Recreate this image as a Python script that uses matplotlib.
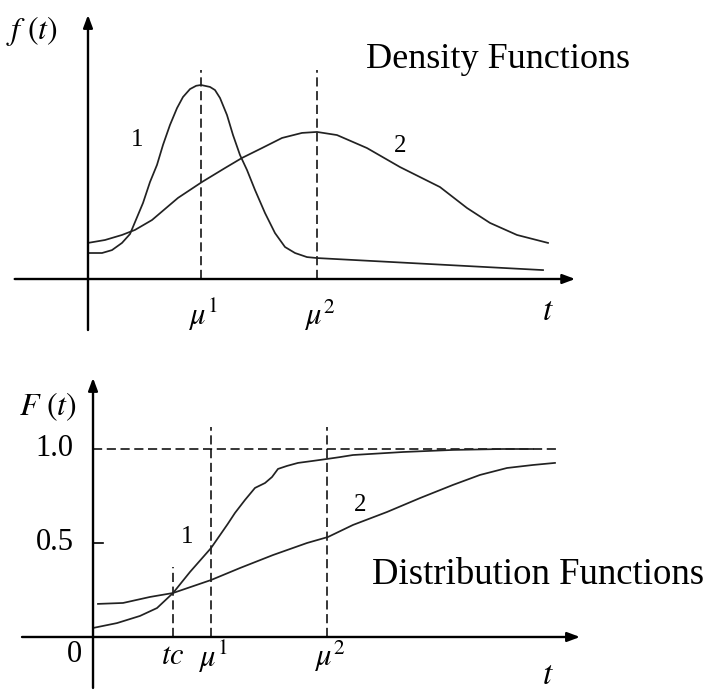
import numpy as np
import matplotlib
matplotlib.use('Agg')
import matplotlib.pyplot as plt

plt.rcParams['mathtext.fontset'] = 'stix'
plt.rcParams['font.family'] = 'Liberation Serif'

# density curves f(t)
t_dens1 = [0.0, 0.245, 0.419, 0.594, 0.734, 0.961, 1.083, 1.205, 1.310, 1.432, 1.555,
           1.659, 1.782, 1.890, 1.974, 2.131, 2.218, 2.306, 2.428, 2.533, 2.655, 2.777,
           2.917, 3.092, 3.266, 3.441, 3.616, 3.825, 4.0, 5.974, 7.948]
f_dens1 = [0.134, 0.134, 0.149, 0.186, 0.232, 0.392, 0.500, 0.588, 0.691, 0.794, 0.881,
           0.938, 0.979, 0.996, 1.0, 0.990, 0.974, 0.933, 0.845, 0.742, 0.639, 0.562,
           0.459, 0.340, 0.237, 0.165, 0.134, 0.113, 0.108, 0.077, 0.046]
t_dens2 = [0.0, 0.297, 0.594, 0.821, 1.118, 1.572, 1.991, 2.393, 2.690, 3.039, 3.389,
           3.738, 4.0, 4.349, 4.873, 5.450, 6.148, 6.620, 7.022, 7.493, 8.035]
f_dens2 = [0.186, 0.201, 0.227, 0.253, 0.304, 0.418, 0.500, 0.572, 0.624, 0.675, 0.727,
           0.753, 0.758, 0.742, 0.675, 0.577, 0.474, 0.366, 0.289, 0.227, 0.186]
mu_dens = [1.974, 4.0]

# distribution curves F(t)
t_dist1 = [0.0, 0.410, 0.803, 1.094, 1.368, 1.658, 2.017, 2.300, 2.427, 2.598, 2.769,
           2.940, 3.060, 3.162, 3.316, 3.504, 3.744, 4.0, 4.222, 4.444, 5.299, 6.154,
           7.009, 7.521]
F_dist1 = [0.048, 0.074, 0.112, 0.154, 0.234, 0.346, 0.473, 0.600, 0.660, 0.729, 0.793,
           0.819, 0.851, 0.894, 0.910, 0.926, 0.936, 0.947, 0.957, 0.968, 0.984, 0.995,
           1.0, 1.0]
t_dist2 = [0.085, 0.513, 0.974, 1.368, 2.017, 2.513, 3.077, 3.658, 4.017, 4.444, 5.026,
           5.590, 6.154, 6.615, 7.077, 7.521, 7.897]
F_dist2 = [0.176, 0.181, 0.213, 0.234, 0.303, 0.367, 0.436, 0.500, 0.532, 0.596, 0.665,
           0.739, 0.809, 0.862, 0.899, 0.915, 0.926]
tc = 1.368
mu_dist = [2.017, 4.0]
F_ticks = [0.5, 1.0]
F_ticklabels = ['0.5', '1.0']

curve_kw = dict(color='#222222', lw=1.25, solid_joinstyle='round')
dash_kw = dict(color='k', lw=1.1, linestyle=(0, (6, 3)))


def axis_arrow(ax, x0, y0, x1, y1):
    ax.annotate('', xy=(x1, y1), xytext=(x0, y0),
                arrowprops=dict(arrowstyle='-|>,head_length=0.75,head_width=0.28',
                                lw=1.7, color='k', shrinkA=0, shrinkB=0))


fig = plt.figure(figsize=(7.11, 6.92), dpi=100)

# ---- top: density functions
ax1 = fig.add_axes([0, 352 / 692, 1, 340 / 692])
ax1.set_xlim(-1.537, 10.882)
ax1.set_ylim(-0.3144, 1.4381)
ax1.axis('off')

axis_arrow(ax1, -1.28, 0, 8.51, 0)
axis_arrow(ax1, 0, -0.263, 0, 1.361)
for m in mu_dens:
    ax1.plot([m, m], [0, 1.077], **dash_kw)
ax1.plot(t_dens1, f_dens1, **curve_kw)
ax1.plot(t_dens2, f_dens2, **curve_kw)

ax1.text(-0.98, 1.28, r'$f\ (t)$', fontsize=23, ha='center', va='center')
ax1.text(4.86, 1.13, 'Density Functions', fontsize=26, ha='left', va='center')
ax1.text(0.856, 0.716, '1', fontsize=18, ha='center', va='center')
ax1.text(5.45, 0.686, '2', fontsize=18, ha='center', va='center')
for i, m in enumerate(mu_dens):
    ax1.text(m - 0.22, -0.186, r'$\mu^{%d}$' % (i + 1), fontsize=22, ha='left', va='center')
ax1.text(8.035, -0.17, r'$t$', fontsize=24, ha='center', va='center')

# ---- bottom: distribution functions
ax2 = fig.add_axes([0, 0, 1, 352 / 692])
ax2.set_xlim(-1.590, 10.564)
ax2.set_ylim(-0.2926, 1.5798)
ax2.axis('off')

axis_arrow(ax2, -1.214, 0, 8.325, 0)
axis_arrow(ax2, 0, -0.271, 0, 1.378)
ax2.plot([0, 7.98], [1.0, 1.0], **dash_kw)
ax2.plot([tc, tc], [0, 0.372], **dash_kw)
for m in mu_dist:
    ax2.plot([m, m], [0, 1.117], **dash_kw)
ax2.plot([0, 0.17], [0.5, 0.5], color='k', lw=1.2)
ax2.plot(t_dist1, F_dist1, **curve_kw)
ax2.plot(t_dist2, F_dist2, **curve_kw)

for v, lab in zip(F_ticks, F_ticklabels):
    ax2.text(-0.33, v, lab, fontsize=22, ha='right', va='center')
ax2.text(-0.19, -0.095, '0', fontsize=22, ha='right', va='center')
ax2.text(-0.77, 1.223, r'$F\ (t)$', fontsize=23, ha='center', va='center')
ax2.text(4.77, 0.33, 'Distribution Functions', fontsize=26.5, ha='left', va='center')
ax2.text(1.607, 0.532, '1', fontsize=18, ha='center', va='center')
ax2.text(4.56, 0.70, '2', fontsize=18, ha='center', va='center')
ax2.text(tc, -0.105, r'$tc$', fontsize=22, ha='center', va='center')
for i, m in enumerate(mu_dist):
    ax2.text(m - 0.22, -0.105, r'$\mu^{%d}$' % (i + 1), fontsize=22, ha='left', va='center')
ax2.text(7.78, -0.205, r'$t$', fontsize=24, ha='center', va='center')

fig.savefig('out.png', dpi=100, facecolor='white')
